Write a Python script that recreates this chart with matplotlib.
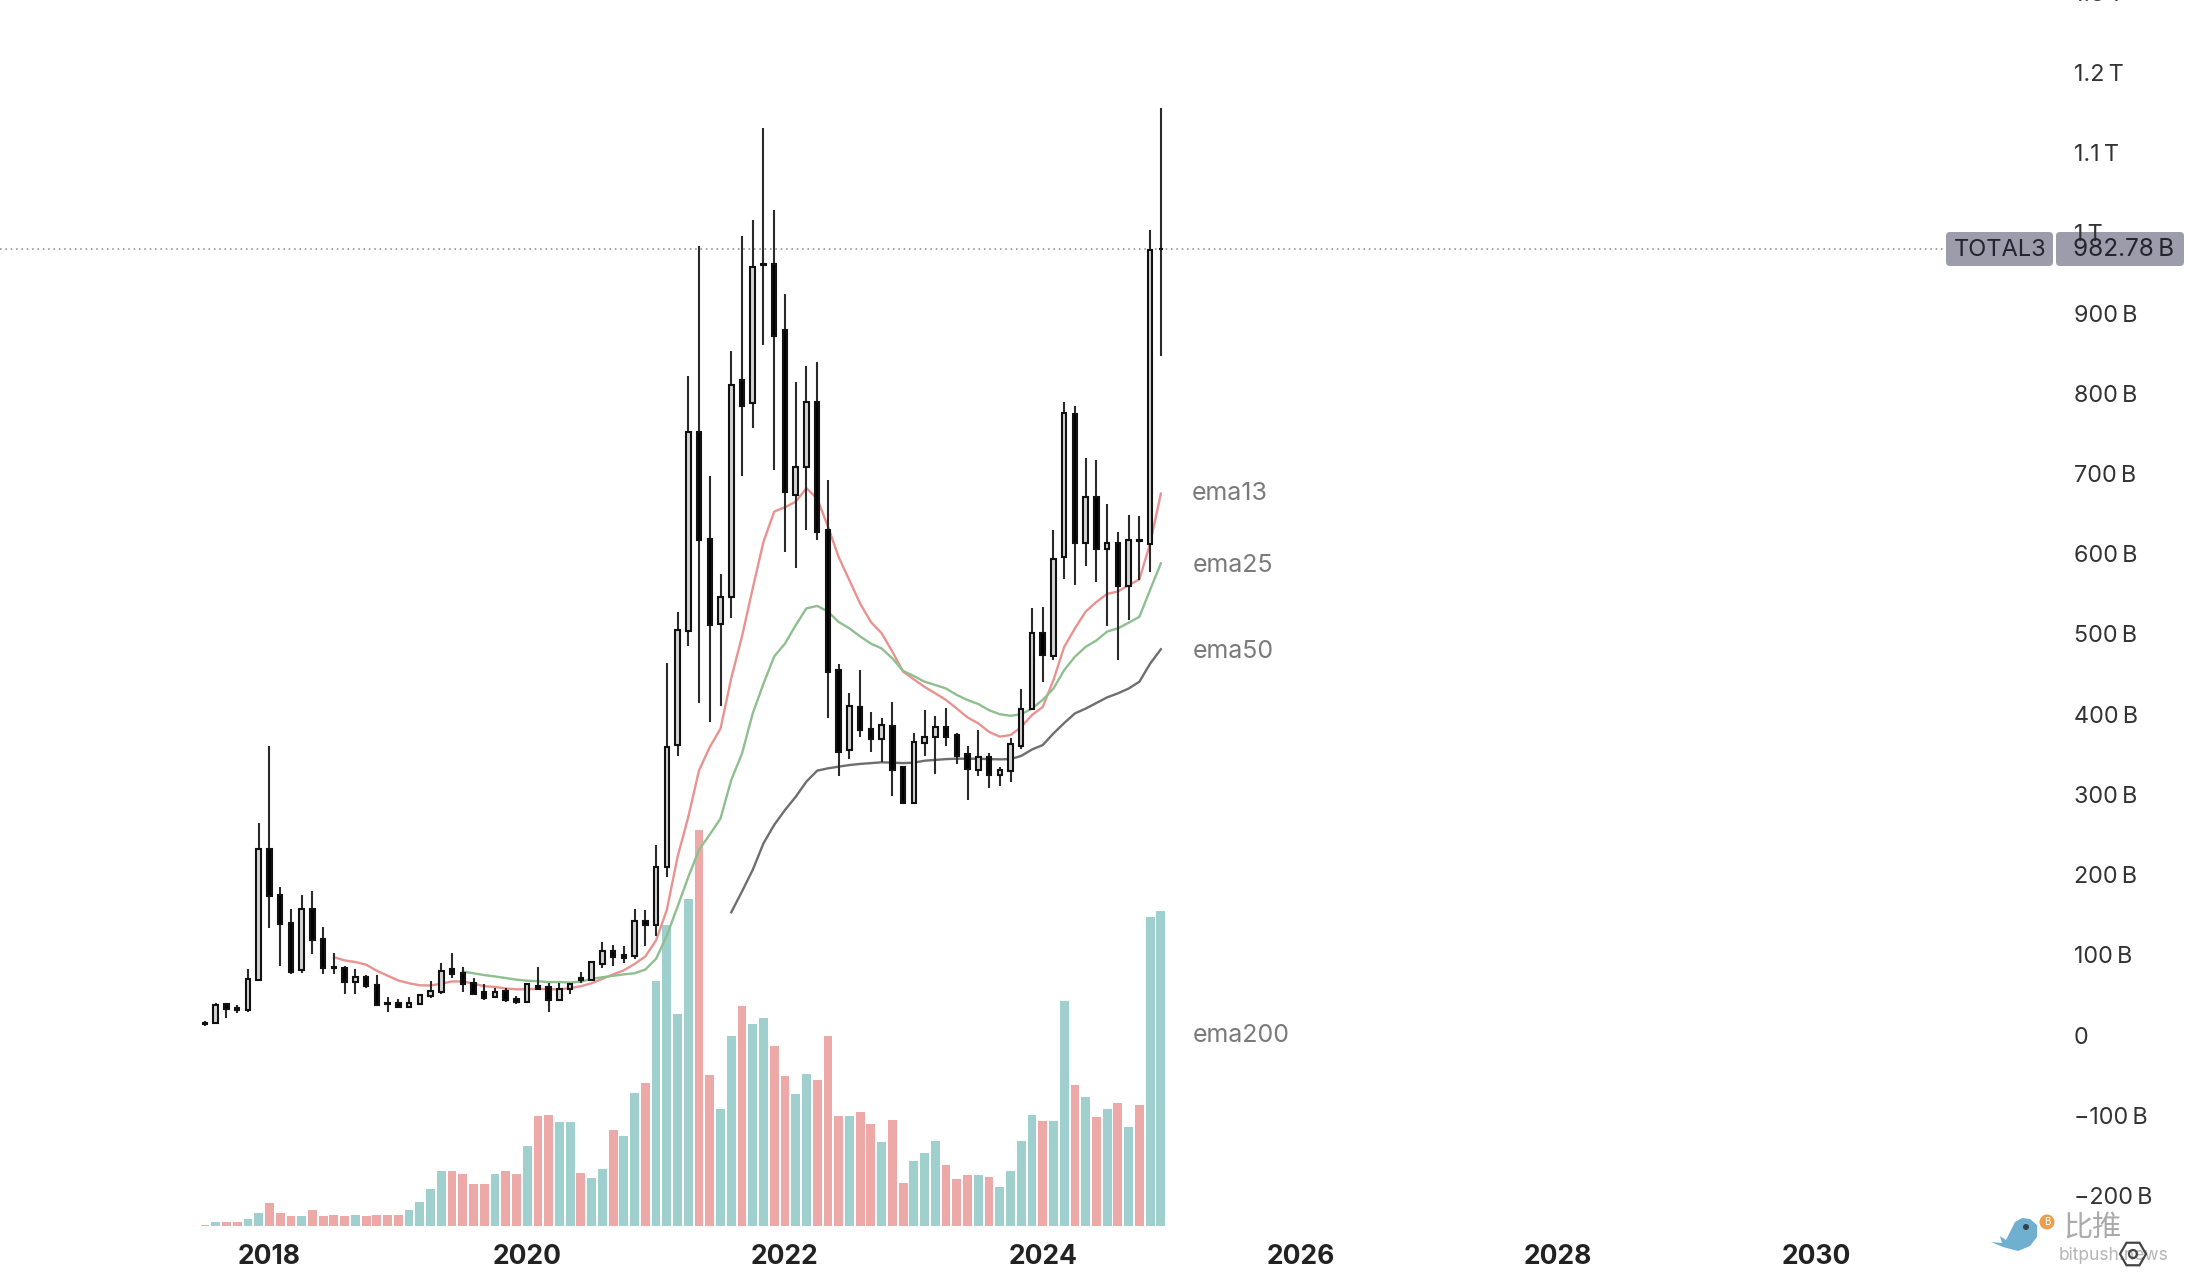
import numpy as np
import matplotlib.pyplot as plt
from matplotlib.patches import FancyBboxPatch, Circle, Polygon, RegularPolygon
from matplotlib.transforms import IdentityTransform

# monthly candles, Jul 2017 to Nov 2024 (values in billions)
opens = [15, 14.5, 38.6, 33.4, 30.7, 68.7, 232.3, 174.4, 139.6, 81.2,
         157, 120, 85, 83, 66, 72.4, 62, 40, 40, 34.4,
         38.6, 48.7, 53, 82, 77, 64.5, 53, 46.9, 55, 45.5,
         41.3, 61.7, 60, 43.6, 57, 68, 69, 88.6, 104.8, 100,
         98.8, 142.4, 137, 210, 361.6, 503.7, 751.5, 619, 513, 546.5,
         816.8, 787.7, 961, 961, 879, 673.4, 708, 789, 630, 455,
         355, 409, 382, 368.6, 385, 333.7, 289.7, 363.7, 372, 384.4,
         374, 350, 331, 347, 324, 329, 360, 406, 501.6, 472.5,
         596, 774, 613, 671, 606, 614, 560, 617, 612, 980]
closes = [14, 37.7, 32, 31.6, 70, 232.3, 173.9, 139, 78, 157,
          118.7, 84, 83.5, 66, 72.4, 60.8, 37.6, 38.6, 34.4, 40,
          50, 55, 80, 75.6, 63, 51.5, 46, 53.9, 43.6, 41.3,
          63, 57, 43.6, 57, 63, 71, 91, 104.8, 97, 96.5,
          141.9, 136.8, 210, 359.5, 505, 751.5, 617, 511, 546.5, 811,
          784.8, 958, 959.7, 872, 677.5, 708.7, 789, 627.7, 453, 353,
          410, 380, 368.6, 387, 331, 289.7, 365, 372, 384.4, 371,
          348, 331.7, 347, 324, 330, 362.4, 407, 501.6, 473.7, 594,
          776, 613, 671, 606, 614, 560, 617, 615.6, 978.8, 982.78 - 2.78]
highs = [18, 40, 40, 37.6, 82, 264.7, 359.8, 185, 157, 174,
         180, 135, 102.5, 86, 82, 74.7, 74.7, 47.8, 45.5, 47,
         50.5, 67.7, 90, 102.5, 85, 71, 63, 58.5, 58.5, 49,
         64.5, 85, 64.5, 64.5, 65.4, 78, 92, 115.5, 112.7, 110.9,
         157, 155.4, 237, 464, 527, 821.7, 983.8, 697, 575, 853,
         996, 1016, 1131, 1028.7, 924, 813.8, 834, 838.8, 692, 462,
         427, 455, 403, 395, 415.6, 335, 377, 405, 397.7, 407.7,
         376, 360, 380, 352, 334.6, 370, 432, 532, 534, 629.6,
         789, 784, 719, 717, 662, 627, 649, 647, 1003.8, 1155.5]
lows = [10.7, 13.5, 21, 28, 29.3, 66.8, 134, 86.3, 76, 77,
        101, 76, 76, 51.5, 51.5, 58.5, 36.7, 28.4, 34, 34,
        38, 46, 51.5, 71, 54, 50.6, 43.6, 46, 41.3, 38.6,
        40.9, 56, 28.4, 43.2, 50.6, 64.5, 67.7, 84, 85.8, 90,
        94.6, 110.9, 123.4, 197, 348, 485, 413.5, 390.7, 410, 520,
        697, 757, 860, 705, 602.7, 582.8, 630, 617, 395.7, 323,
        344, 371, 353, 341, 298.4, 289, 289, 347.9, 326, 360,
        338, 293, 323, 308, 311, 316, 356, 406, 440.5, 468,
        568, 561, 585, 565, 510, 467.5, 517, 567, 577.6, 847]

# volume (no scale on the chart, arbitrary units) and whether the bar is teal
volumes = [1.5, 3.7, 3.7, 3.7, 7.4, 13.4, 23.4, 13.4, 9.7, 9.7,
           15.6, 9.7, 11.5, 9.7, 11.5, 9.7, 11.5, 11.5, 11.5, 15.6,
           23.8, 37.5, 55.4, 55.4, 51.7, 41.6, 41.6, 51.7, 55.4, 51.7,
           79.6, 109.7, 111.5, 103.7, 103.7, 53.5, 47.6, 57, 96, 89.7,
           133, 143, 245, 301, 211.7, 327, 395.7, 151, 117, 189.7,
           219.7, 201.7, 207.7, 179.7, 149.7, 131.7, 151.7, 145.7, 189.7, 109.7,
           109.7, 113.7, 101.7, 83.7, 105.7, 42.7, 65, 73, 85, 61,
           47, 51, 51, 49, 39, 55, 85, 111, 105, 105,
           225, 141, 129, 109, 117, 123, 99, 121, 309, 315]
vol_teal = [0, 1, 0, 0, 1, 1, 0, 0, 0, 1,
            0, 0, 0, 0, 1, 0, 0, 0, 0, 1,
            1, 1, 1, 0, 0, 0, 0, 1, 0, 0,
            1, 0, 0, 1, 1, 0, 1, 1, 0, 1,
            1, 0, 1, 1, 1, 1, 0, 0, 1, 1,
            0, 1, 1, 0, 0, 1, 1, 0, 0, 0,
            1, 0, 0, 1, 0, 0, 1, 1, 1, 0,
            0, 0, 1, 0, 1, 1, 1, 1, 0, 1,
            1, 0, 1, 0, 1, 0, 1, 0, 1, 1]

ema13 = [97, 93, 91, 87.7, 80, 74, 68, 64.5, 62, 61.7,
         64, 66.8, 66.8, 64, 60.8, 60, 58, 57, 57, 57.6,
         57, 57, 58.5, 60.8, 64.5, 70, 75.6, 80.7, 88.6, 98,
         118, 156, 222, 272, 330, 359, 382, 445, 497, 557,
         615, 652.6, 658, 665, 681.7, 669, 634, 596, 567, 538,
         515, 501, 478, 453, 443.5, 434, 426, 417.7, 407, 396,
         388.6, 378, 372, 374, 384, 399, 409, 442.6, 484, 507,
         528, 540, 550, 553, 561, 568, 613, 675]
ema25 = [79, 77, 74.7, 73, 71, 69, 67.7, 67, 66, 66, 65.4,
         66.5, 70, 72, 73.8, 75.6, 77, 81.7, 95, 124, 160,
         197, 231, 250, 270, 318, 351, 401, 438, 472, 488,
         511, 532, 535, 528, 515, 507, 497, 488, 482, 469.6,
         454, 447.6, 440.5, 436.4, 432, 424, 417.7, 412.7, 405, 400,
         398, 400, 407, 418, 432, 455, 471.7, 484, 492, 503,
         507, 514, 521.5, 555, 588]
ema50 = [153, 179, 206, 239, 262, 280.5, 297, 316, 329.6, 332.5,
         334.6, 336.6, 338, 339, 340, 339.6, 339, 339.6, 342, 343,
         344, 344.5, 344.5, 344.5, 344, 343.7, 344, 348, 356, 361.5,
         376, 389, 401, 407, 414, 421, 426, 432, 440.5, 463,
         481]

year_ticks = [6, 30, 54, 78, 102, 126, 150]
year_labels = ['2018', '2020', '2022', '2024', '2026', '2028', '2030']
price_ticks = [-200, -100, 0, 100, 200, 300, 400, 500, 600, 700, 800, 900, 1000, 1100, 1200, 1300]
price_labels = ['\u2212200\u2009B', '\u2212100\u2009B', '0', '100\u2009B', '200\u2009B', '300\u2009B',
                '400\u2009B', '500\u2009B', '600\u2009B', '700\u2009B', '800\u2009B', '900\u2009B',
                '1\u2009T', '1.1\u2009T', '1.2\u2009T', '1.3\u2009T']

W, H = 2188, 1282
plt.rcParams['font.family'] = ['Inter', 'DejaVu Sans']

fig = plt.figure(figsize=(W / 100, H / 100), dpi=100)
# axes run a bit past the top edge so that the 1.3 T label gets cut off like the original
ax_top, ax_bottom, ax_right = -20, 1226, 2060
ax = fig.add_axes([0, 1 - ax_bottom / H, ax_right / W, (ax_bottom - ax_top) / H])
vol_ax = ax.twinx()

x = np.arange(len(opens))
month_px = 10.74
ax.set_xlim(-205 / month_px, (ax_right - 205) / month_px)
ax.set_ylim((1035 - ax_bottom) / 0.802, (1035 - ax_top) / 0.802)
vol_ax.set_ylim(0, ax_bottom - ax_top)

# volume underneath everything
vol_colors = ['#9FD0CD' if t else '#EDA9A8' for t in vol_teal]
vol_ax.bar(x, volumes, width=0.82, color=vol_colors, linewidth=0)
vol_ax.axis('off')
ax.set_zorder(vol_ax.get_zorder() + 1)
ax.patch.set_visible(False)

ax.axhline(closes[-1], xmax=1946 / ax_right, color='#888888', linestyle=(0, (1, 2.5)), linewidth=1.1, zorder=1)

# moving averages
ax.plot(np.arange(12, 12 + len(ema13)), ema13, color='#E8938F', linewidth=1.7, zorder=2)
ax.plot(np.arange(24, 24 + len(ema25)), ema25, color='#8EC08F', linewidth=1.7, zorder=2)
ax.plot(np.arange(49, 49 + len(ema50)), ema50, color='#6e6e6e', linewidth=1.7, zorder=2)

# candles
o = np.array(opens)
c = np.array(closes)
ax.vlines(x, lows, highs, color='#2a2a2a', linewidth=1.5, zorder=3)
body_colors = ['#d4d4d4' if b > a else '#000000' for a, b in zip(o, c)]
ax.bar(x, np.abs(c - o), bottom=np.minimum(o, c), width=0.42, color=body_colors,
       edgecolor='#111111', linewidth=1.5, zorder=4)

ax.set_xticks(year_ticks)
ax.set_xticklabels(year_labels, fontsize=19, fontweight='bold', color='#222222')
ax.yaxis.tick_right()
ax.set_yticks(price_ticks)
ax.set_yticklabels(price_labels, fontsize=16.8, color='#333333', ha='left')
ax.tick_params(axis='both', length=0)
ax.tick_params(axis='x', pad=13)
ax.tick_params(axis='y', pad=10)
for s in ax.spines.values():
    s.set_visible(False)


def fx(px):
    return px / W


def fy(py):
    return 1 - py / H


for name, left, py in [('ema13', 1192, 494), ('ema25', 1193, 566), ('ema50', 1193, 652), ('ema200', 1193, 1036)]:
    fig.text(fx(left), fy(py), name, fontsize=18, color='#7a7a7a', va='center')

# price tag on the right
for left, right in [(1946, 2053), (2056, 2184)]:
    fig.add_artist(FancyBboxPatch((left + 3, H - 263), right - left - 6, 28,
                                  boxstyle='round,pad=3,rounding_size=4', transform=IdentityTransform(),
                                  facecolor='#9C9CAA', edgecolor='none'))
fig.text(fx(2000), fy(250), 'TOTAL3', fontsize=17, color='#24242e', ha='center', va='center', zorder=5)
fig.text(fx(2124), fy(250), '982.78\u2009B', fontsize=17.5, color='#24242e', ha='center', va='center', zorder=5)

# bitpush watermark
bird = [(1991, 1242), (2003, 1247), (2018, 1251), (2030, 1246), (2037, 1237), (2037, 1225), (2030, 1219),
        (2022, 1218), (2015, 1222), (2010, 1232), (2006, 1240), (2000, 1236), (2002, 1243)]
fig.add_artist(Polygon([(px, H - py) for px, py in bird], closed=True, transform=IdentityTransform(),
                       facecolor='#6FAFCF', edgecolor='none'))
fig.add_artist(Circle((2026, H - 1227), 3, transform=IdentityTransform(), facecolor='#33424d', edgecolor='none'))
fig.add_artist(Circle((2047, H - 1222), 7.5, transform=IdentityTransform(), facecolor='#E8A04E', edgecolor='none'))
fig.text(fx(2047), fy(1222), 'B', fontsize=7, color='white', ha='center', va='center', zorder=5)
fig.text(fx(2093), fy(1228), '比推', fontsize=21, color='#aaaaaa', ha='center', va='center',
         family=['Noto Sans CJK SC', 'DejaVu Sans'], zorder=5)
fig.text(fx(2113), fy(1255), 'bitpush.news', fontsize=12.5, color='#b5b5b5', ha='center', va='center', zorder=5)
fig.add_artist(RegularPolygon((2133, H - 1254), 6, radius=13, orientation=np.pi / 2, transform=IdentityTransform(),
                              facecolor='none', edgecolor='#444444', linewidth=1.6, zorder=6))
fig.add_artist(Circle((2133, H - 1254), 4, transform=IdentityTransform(), facecolor='none',
                      edgecolor='#444444', linewidth=1.6, zorder=6))

fig.savefig('out.png', dpi=100, facecolor='white')
